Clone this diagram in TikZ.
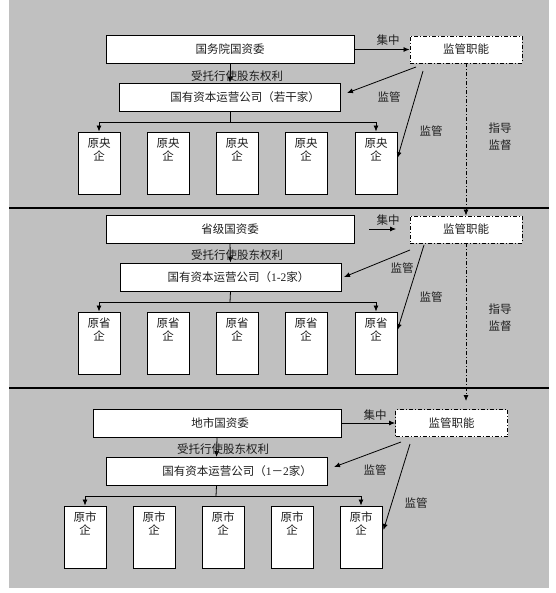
\documentclass[tikz,border=0pt]{standalone}
\usepackage{fontspec}
\setmainfont{Noto Sans CJK SC}
\newfontfamily\lat{Liberation Serif}
\usetikzlibrary{arrows.meta,calc}
\definecolor{bg}{RGB}{192,192,192}
\definecolor{ink}{RGB}{30,30,30}
\tikzset{
  every node/.style={font=\fontsize{11.5}{13}\selectfont, text=ink},
  box/.style={draw=black, fill=white, line width=0.9pt, inner sep=0pt, minimum height=28pt},
  topbox/.style={box, minimum width=248pt},
  capbox/.style={box, minimum width=221pt},
  ent/.style={box, minimum width=42pt, minimum height=62pt},
  func/.style={draw=black, fill=white, line width=0.9pt, dash pattern=on 4pt off 2pt on 1pt off 2pt, minimum width=112pt, minimum height=27pt, inner sep=0pt},
  conn/.style={line width=0.8pt, -{Latex[length=6pt,width=5pt]}},
  plainline/.style={line width=0.8pt},
  lbl/.style={inner sep=0pt},
  enttext/.style={inner sep=0pt, align=center, anchor=north},
  twoline/.style={inner sep=0pt, align=center, font=\fontsize{11.5}{17}\selectfont},
  sepline/.style={line width=1.2pt},
  guide/.style={line width=0.8pt, dash pattern=on 4pt off 2pt on 1pt off 2pt, -{Latex[length=6pt,width=5pt]}}
}
\begin{document}
\begin{tikzpicture}[x=1pt,y=-1pt]
\useasboundingbox (0,0) rectangle (555,593);
\fill[white] (0,0) rectangle (555,593);
\fill[bg] (9,0) rectangle (549,588);

% separators
\coordinate (s1l) at (9,208); \coordinate (s1r) at (549,208);
\coordinate (s2l) at (9,388); \coordinate (s2r) at (549,388);
\draw[sepline] (s1l) -- (s1r);
\draw[sepline] (s2l) -- (s2r);

% ================= Section 1 =================
\node[topbox] (top1) at (230,49.5) {国务院国资委};
\node[func] (jg1) at (466,49.5) {监管职能};
\node[capbox] (cap1) at (230,97) {\hspace*{30pt}国有资本运营公司（若干家）};
\foreach \i/\x in {1/99,2/168,3/237,4/306,5/376}{
  \node[ent] (a\i) at (\x,163) {};
  \node[enttext] at ($(a\i.north)+(0,6)$) {原央\\企};
}
\draw[conn] (top1.east) -- (jg1.west);
\node[lbl] at (388,40) {集中};
\draw[conn] (top1.south) -- (cap1.north);
\node[lbl] at (237,76) {受托行使股东权利};
\coordinate (b1) at (230,122);
\draw[plainline] (cap1.south) -- (b1);
\draw[conn] (b1) -| (a1.north);
\draw[conn] (b1) -| (a5.north);
\coordinate (m1a) at (416,67);
\coordinate (m1b) at (347,93);
\draw[conn] (m1a) -- (m1b);
\coordinate (m1c) at (423,71);
\draw[conn] (m1c) -- ($(a5.east)+(0,-5)$);
\node[lbl] at (389,97) {监管};
\node[lbl] at (431,131) {监管};
\node[twoline] at (500,136.5) {指导\\监督};

% ================= Section 2 =================
\node[topbox] (top2) at (230,229) {省级国资委};
\node[func] (jg2) at (466,229.5) {监管职能};
\node[capbox] (cap2) at (230.5,277) {\hspace*{16pt}国有资本运营公司（{\lat 1-2}家）};
\foreach \i/\x in {1/99,2/168,3/237,4/306,5/376}{
  \node[ent] (b\i) at (\x,343) {};
  \node[enttext] at ($(b\i.north)+(0,6)$) {原省\\企};
}
\coordinate (j2a) at (369,229);
\coordinate (j2b) at (396,229);
\draw[conn] (j2a) -- (j2b);
\node[lbl] at (388,220) {集中};
\draw[conn] (top2.south) -- (cap2.north);
\node[lbl] at (237,255) {受托行使股东权利};
\coordinate (b2) at (230,302);
\draw[plainline] (cap2.south) -- (b2);
\draw[conn] (b2) -| (b1.north);
\draw[conn] (b2) -| (b5.north);
\coordinate (m2a) at (410,250);
\coordinate (m2b) at (344,277);
\draw[conn] (m2a) -- (m2b);
\coordinate (m2c) at (424,245);
\draw[conn] (m2c) -- ($(b5.east)+(0,-13)$);
\node[lbl] at (402,268) {监管};
\node[lbl] at (431,297) {监管};
\node[twoline] at (500,318) {指导\\监督};

% guide lines
\draw[guide] (jg1.south) -- (jg2.north);
\coordinate (g3) at (466,401);
\draw[guide] (jg2.south) -- (g3);

% ================= Section 3 =================
\node[topbox] (top3) at (217,423) {\hspace*{6pt}地市国资委};
\node[func] (jg3) at (451.5,423) {监管职能};
\node[capbox] (cap3) at (216.5,471.5) {\hspace*{41pt}国有资本运营公司（{\lat 1}－{\lat 2}家）};
\foreach \i/\x in {1/85,2/154,3/223,4/292,5/361}{
  \node[ent] (c\i) at (\x,537) {};
  \node[enttext] at ($(c\i.north)+(0,6)$) {原市\\企};
}
\draw[conn] (top3.east) -- (jg3.west);
\node[lbl] at (375,415) {集中};
\draw[conn] (top3.south) -- (cap3.north);
\node[lbl] at (223,449) {受托行使股东权利};
\coordinate (b3) at (216,496);
\draw[plainline] (cap3.south) -- (b3);
\draw[conn] (b3) -| (c1.north);
\draw[conn] (b3) -| (c5.north);
\coordinate (m3a) at (401,442);
\coordinate (m3b) at (334,467);
\draw[conn] (m3a) -- (m3b);
\coordinate (m3c) at (410,444);
\draw[conn] (m3c) -- ($(c5.east)+(1,-7)$);
\node[lbl] at (375,470) {监管};
\node[lbl] at (416,503) {监管};
\end{tikzpicture}
\end{document}
